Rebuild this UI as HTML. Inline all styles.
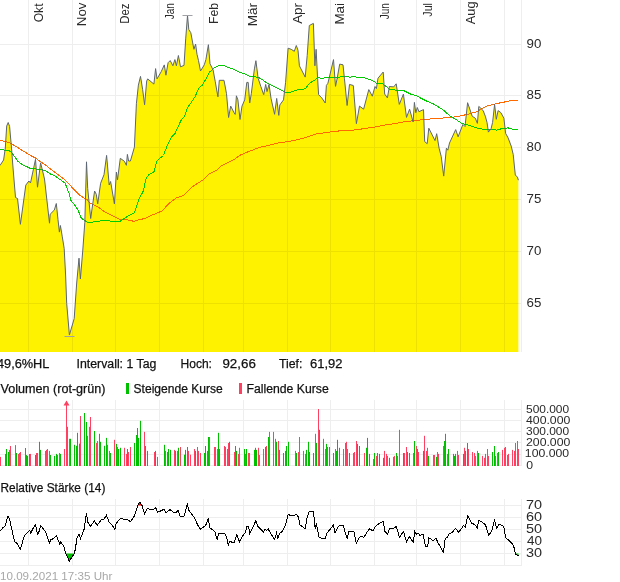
<!DOCTYPE html>
<html><head><meta charset="utf-8"><title>Chart</title><style>
html,body{margin:0;padding:0;background:#fff;}body{width:620px;height:582px;overflow:hidden;}
svg{display:block;font-family:"Liberation Sans",sans-serif;will-change:transform;}
</style></head><body>
<svg width="620" height="582" viewBox="0 0 620 582">
<polygon points="0,352 0,165.5 3.6,160 5.3,148 6.7,126 8.2,122.5 9.6,126.5 11.5,148 13.2,170 15.5,197.5 17.5,198.5 20.4,224.3 25.8,185.1 28.9,181 30.5,183 35.5,159.3 37.5,187.2 40.6,162.8 44.5,179 49.5,223.2 50.2,214.2 54.3,210.1 56.3,203.5 58,219.7 59.4,232.1 60.4,225.5 62.2,236.2 64.2,248.6 65.6,275 66.7,303.5 69.4,335 74.2,318.6 76.7,283 79,258.2 80.4,279 82.8,250 84.8,222.5 86.5,161.8 87.7,188.4 90.7,218.5 92,209 94.6,191 96.3,194.4 97.7,203.9 100.6,183.3 104,174.7 106.6,155.4 109.2,185 110.6,181.5 114.4,203.9 116.4,172.1 117.5,179.8 120.3,158.3 124.4,161.3 126.4,165.3 127.4,154.4 128.6,161 130.4,161 134.4,147.2 136.4,103.7 138.4,85.1 140.5,76.4 142.6,89.3 144.6,104.8 146.7,81 147.7,78.9 153.9,84.1 155.6,68.6 157,78.9 161.2,71.7 164.3,64.9 165.9,75.2 168.1,62.7 170.2,60.6 172.9,65.8 174.9,59.6 176.4,65.8 178.4,55.5 180.5,66.8 184,65.4 185.7,38.9 187.5,15.5 188.8,29.6 190.8,32.7 193.9,49.3 195.6,44.1 197,54.4 198.5,60.6 200.5,71 204.3,64.8 205.9,59.6 208.4,44.7 210,63.7 213.1,70 215.2,81.3 217.9,96.8 219.3,80.3 224,80.3 226.5,93.7 228.6,117.5 230.7,106.1 233.8,112.3 235.2,114.4 236.4,95.8 237.9,99.9 240,119.5 242,106.1 244.7,99.9 246.8,82.4 248.2,82.4 249.7,103 251.3,93.7 254.4,68.9 255.9,60.7 258.1,78.2 260.8,86.4 263.7,94.7 265.7,84.4 267,91.6 269,84.4 271.1,98.8 274.6,114.3 276.7,98.4 278.8,115.4 279.8,105 283.5,99.9 285.6,82.3 288.1,48.2 291.2,49.3 294.3,51.3 296.3,45.5 298,50.3 299.4,65.8 301.5,69.9 305.2,77.1 307.2,55.5 309.3,25.5 313.4,23.4 314.9,65.8 316.1,49.3 317.6,78.2 318.6,94.7 321.7,97.8 325.2,103 326.4,85.4 327.9,83.3 333.5,59.6 335.5,86.4 337.2,78.2 339.7,64.1 343,64.8 344.4,78.2 347.1,105.5 349.5,84.4 353.3,85.5 356.4,123.7 359.5,106.1 363.6,109.2 368.8,89.6 372.3,96.2 375,86.5 376.4,88.6 378,78.2 383.2,72 384.7,94.1 387.4,97.9 389.4,86.5 393.7,86.9 396.2,83.8 399.3,104.4 403.4,94.1 406.5,117.4 409.6,109.2 413.1,122 414.4,102.4 415.8,112.7 417.3,107.5 418.9,111.7 423.5,109.6 424.7,141.6 427.2,143.7 428.8,128.2 435,140.6 436.7,133.7 439.1,148.2 441.2,156.4 443.7,176.1 446.4,148.2 447.8,150.2 449.5,143 455.7,129.6 458.1,136.8 462.9,124.4 465,126.5 467.6,102.7 470.1,110 472.2,116.2 475.3,118.2 477.4,123.4 478.8,106.4 481.5,108.9 483.3,111 485.3,116.2 487,122.4 488.4,132.1 491.1,128.6 492.6,122.4 494.6,104.4 496.3,119.3 498.1,110.6 500.8,112.6 503.9,118.2 505.6,133.3 508.1,137.9 511.2,146.1 513.2,154.4 515.3,175 517.4,177.1 518.4,180.2 518.4,352" fill="#fff200"/>
<path d="M28.5 0V352M72.5 0V352M115.5 0V352M159.5 0V352M203.5 0V352M243.5 0V352M287.5 0V352M330.5 0V352M374.5 0V352M416.5 0V352M460.5 0V352M504.5 0V352M521.5 0V352M0 44.5H522M0 95.5H522M0 147.5H522M0 199.5H522M0 251.5H522M0 303.5H522" stroke="#eeeeee" stroke-width="1" fill="none" style="mix-blend-mode:multiply"/>
<polyline points="0,140.2 10,142.8 20,149 30,155.2 36,158.3 40,161.4 45,164.5 50,168.6 64,179 80,195.6 86.9,199.6 90.3,203 97.2,206.5 105.8,212.5 114.4,216.8 119.5,219.3 129.8,220.2 133.5,221.3 139.4,219.7 145.2,218.4 151,215.5 156.8,213.2 162.6,210.6 168.4,203.9 176.1,198.1 183.9,195.2 191.6,187.4 197.4,183.5 203.2,179.7 209,173.9 216.8,170 220.6,166.1 228.4,162.3 234.2,159.4 240,155.2 247.1,152.2 254.2,149.4 259.5,147.3 268.4,145.5 279,142.8 287.9,141.6 296.8,139.8 307.4,137 316.3,134 328.7,132.2 339.4,130.9 350,130.4 355.3,129.9 365.7,128.4 376,126.8 386.3,124.7 395,123.7 400.3,122.4 410.7,121 421,119.9 431.3,118.9 440,118.3 445.3,117.8 455.7,116.8 466,114.7 476.3,112 481.2,108.9 487.4,105.8 495.7,103.8 506,101.7 512.2,100.2 518.4,101.1" fill="none" stroke="#ff6a00" stroke-width="1" shape-rendering="crispEdges"/>
<polyline points="0,149.6 9,150.5 12,153 18,161.4 22,164.5 30,168.2 40,169.6 45,170.3 50,173.8 55,176 65,183 69.7,195 70.4,199.8 74.5,204.6 78,210.1 81.4,218.4 84.8,220.4 87.6,222.5 93.7,221.9 105.8,220.2 114.4,222 120,221.3 125.8,217.4 129.8,215 134.5,212.6 139.4,198.1 143.2,191.3 146.1,178.7 149,174.4 153.9,171.9 156.8,161.3 159.7,158.4 163.5,155.5 166.4,147.7 169.9,140 171.5,136.8 175,133.7 176.4,130.2 181.5,119.5 184.6,116.4 187.7,107.1 190.8,103 195,96.8 199.1,87.5 202.2,85.4 206.3,78.2 209.4,72 212.5,69.9 214.1,67.9 218.3,65.8 223.4,65.2 226.5,66.9 232.7,68.9 238.9,72 244.1,73.5 249.3,76.2 255.5,76.8 260.2,78.2 267.4,83.3 275.7,87.5 283.9,91.6 287,93.1 292.2,91.6 298.4,89.5 305.2,88.9 309.3,83.3 314.5,80.2 317.6,77.8 322.7,78.2 328.9,77.1 335.1,77.1 337.6,78.2 341.3,76.5 350,77.1 353.3,76.8 363.6,77.6 371.9,80.3 377,83.4 382.2,83.4 386.3,86.5 389.4,89.6 395,90 398.3,90.6 404.5,91 410.7,94.1 415.8,95.5 421,98.2 427.2,101.3 434.4,104.4 440,107.9 443.3,110 449.5,115.5 455.7,119.3 461.9,123.4 468.1,125 476.3,127.9 483.3,129.2 491.5,129.2 496.7,130.2 501.9,128.6 508.1,127.9 513.2,129.2 518.4,129.6" fill="none" stroke="#00cc00" stroke-width="1" shape-rendering="crispEdges"/>
<polyline points="0,165.5 3.6,160 5.3,148 6.7,126 8.2,122.5 9.6,126.5 11.5,148 13.2,170 15.5,197.5 17.5,198.5 20.4,224.3 25.8,185.1 28.9,181 30.5,183 35.5,159.3 37.5,187.2 40.6,162.8 44.5,179 49.5,223.2 50.2,214.2 54.3,210.1 56.3,203.5 58,219.7 59.4,232.1 60.4,225.5 62.2,236.2 64.2,248.6 65.6,275 66.7,303.5 69.4,335 74.2,318.6 76.7,283 79,258.2 80.4,279 82.8,250 84.8,222.5 86.5,161.8 87.7,188.4 90.7,218.5 92,209 94.6,191 96.3,194.4 97.7,203.9 100.6,183.3 104,174.7 106.6,155.4 109.2,185 110.6,181.5 114.4,203.9 116.4,172.1 117.5,179.8 120.3,158.3 124.4,161.3 126.4,165.3 127.4,154.4 128.6,161 130.4,161 134.4,147.2 136.4,103.7 138.4,85.1 140.5,76.4 142.6,89.3 144.6,104.8 146.7,81 147.7,78.9 153.9,84.1 155.6,68.6 157,78.9 161.2,71.7 164.3,64.9 165.9,75.2 168.1,62.7 170.2,60.6 172.9,65.8 174.9,59.6 176.4,65.8 178.4,55.5 180.5,66.8 184,65.4 185.7,38.9 187.5,15.5 188.8,29.6 190.8,32.7 193.9,49.3 195.6,44.1 197,54.4 198.5,60.6 200.5,71 204.3,64.8 205.9,59.6 208.4,44.7 210,63.7 213.1,70 215.2,81.3 217.9,96.8 219.3,80.3 224,80.3 226.5,93.7 228.6,117.5 230.7,106.1 233.8,112.3 235.2,114.4 236.4,95.8 237.9,99.9 240,119.5 242,106.1 244.7,99.9 246.8,82.4 248.2,82.4 249.7,103 251.3,93.7 254.4,68.9 255.9,60.7 258.1,78.2 260.8,86.4 263.7,94.7 265.7,84.4 267,91.6 269,84.4 271.1,98.8 274.6,114.3 276.7,98.4 278.8,115.4 279.8,105 283.5,99.9 285.6,82.3 288.1,48.2 291.2,49.3 294.3,51.3 296.3,45.5 298,50.3 299.4,65.8 301.5,69.9 305.2,77.1 307.2,55.5 309.3,25.5 313.4,23.4 314.9,65.8 316.1,49.3 317.6,78.2 318.6,94.7 321.7,97.8 325.2,103 326.4,85.4 327.9,83.3 333.5,59.6 335.5,86.4 337.2,78.2 339.7,64.1 343,64.8 344.4,78.2 347.1,105.5 349.5,84.4 353.3,85.5 356.4,123.7 359.5,106.1 363.6,109.2 368.8,89.6 372.3,96.2 375,86.5 376.4,88.6 378,78.2 383.2,72 384.7,94.1 387.4,97.9 389.4,86.5 393.7,86.9 396.2,83.8 399.3,104.4 403.4,94.1 406.5,117.4 409.6,109.2 413.1,122 414.4,102.4 415.8,112.7 417.3,107.5 418.9,111.7 423.5,109.6 424.7,141.6 427.2,143.7 428.8,128.2 435,140.6 436.7,133.7 439.1,148.2 441.2,156.4 443.7,176.1 446.4,148.2 447.8,150.2 449.5,143 455.7,129.6 458.1,136.8 462.9,124.4 465,126.5 467.6,102.7 470.1,110 472.2,116.2 475.3,118.2 477.4,123.4 478.8,106.4 481.5,108.9 483.3,111 485.3,116.2 487,122.4 488.4,132.1 491.1,128.6 492.6,122.4 494.6,104.4 496.3,119.3 498.1,110.6 500.8,112.6 503.9,118.2 505.6,133.3 508.1,137.9 511.2,146.1 513.2,154.4 515.3,175 517.4,177.1 518.4,180.2" fill="none" stroke="#5c6573" stroke-width="1" stroke-linejoin="round"/>
<path d="M182.5 15.5H192.5M64.5 336.5H74.5" stroke="#a0a2a8" stroke-width="1.2"/>
<rect x="126" y="383" width="3" height="11" fill="#00c000"/>
<rect x="239" y="383" width="3" height="11" fill="#ff4060"/>
<path d="M28.5 400V466M72.5 400V466M115.5 400V466M159.5 400V466M203.5 400V466M243.5 400V466M287.5 400V466M330.5 400V466M374.5 400V466M416.5 400V466M460.5 400V466M504.5 400V466M521.5 400V466M0 409.5H522M0 420.5H522M0 431.5H522M0 442.5H522M0 454.5H522M0 465.5H522" stroke="#eeeeee" stroke-width="1" fill="none" style="mix-blend-mode:multiply"/>
<path d="M5.5 466V454M6.5 466V449M8.5 466V452M16.5 466V453M25.5 466V448M26.5 466V455.1M27.5 466V456M29.5 466V454M35.5 466V455M39.5 466V441.8M40.5 466V449.9M50.5 466V455M54.5 466V455.9M56.5 466V453.9M60.5 466V453.9M70.5 466V438.8M74.5 466V444.8M76.5 466V445.8M77.5 466V432.8M79.5 466V443.6M84.5 466V413M86.5 466V422M94.5 466V431M99.5 466V433.8M100.5 466V441.8M104.5 466V445.8M106.5 466V437.9M110.5 466V453M116.5 466V443.9M118.5 466V449M120.5 466V447.8M127.5 466V449M134.5 466V443M136.5 466V435M137.5 466V428M138.5 466V437.9M140.5 466V420.8M145.5 466V446M147.5 466V450.9M155.5 466V450.9M164.5 466V444.8M167.5 466V452M168.5 466V449M170.5 466V449.9M175.5 466V450.9M178.5 466V447.8M184.5 466V454.7M185.5 466V449.9M187.5 466V447M195.5 466V450.9M204.5 466V453M205.5 466V446M207.5 466V450.9M208.5 466V437M218.5 466V432.8M219.5 466V449M229.5 466V441.8M235.5 466V446M236.5 466V450.9M244.5 466V449M246.5 466V449M254.5 466V449.9M255.5 466V447.8M256.5 466V449.9M265.5 466V447M268.5 466V437M276.5 466V441.8M279.5 466V449.9M283.5 466V453M285.5 466V450.9M286.5 466V446M288.5 466V441.8M296.5 466V453M306.5 466V449.9M308.5 466V441.8M309.5 466V452M313.5 466V453M316.5 466V443M319.5 466V429.8M326.5 466V443.9M329.5 466V447M333.5 466V453M336.5 466V450.9M337.5 466V439.8M339.5 466V447.8M349.5 466V453M357.5 466V443.9M359.5 466V446M366.5 466V447.8M367.5 466V437.9M369.5 466V453.9M374.5 466V453M377.5 466V453M379.5 466V453.9M383.5 466V457.8M389.5 466V457.8M396.5 466V453M403.5 466V453M407.5 466V452M409.5 466V453M414.5 466V441M417.5 466V449M423.5 466V450.9M428.5 466V455.9M436.5 466V456.9M444.5 466V441M445.5 466V433.8M448.5 466V449M453.5 466V453.9M454.5 466V455.9M455.5 466V453.9M463.5 466V453.9M465.5 466V450.9M467.5 466V443M478.5 466V453M492.5 466V452M494.5 466V446M498.5 466V452" stroke="#00c000" stroke-width="1" fill="none"/>
<path d="M0.5 466V456.9M9.5 466V449.9M10.5 466V446M15.5 466V445.1M18.5 466V454M19.5 466V453M20.5 466V452M30.5 466V453.9M36.5 466V453M37.5 466V453M45.5 466V451M46.5 466V449.9M47.5 466V449M49.5 466V450.9M57.5 466V455M59.5 466V453M64.5 466V449M66.5 466V401M67.5 466V426.8M69.5 466V438.8M80.5 466V416M87.5 466V435.8M89.5 466V426.8M90.5 466V417M96.5 466V443M97.5 466V441M107.5 466V444.8M109.5 466V450.9M114.5 466V439.8M117.5 466V447M124.5 466V447.8M126.5 466V453.9M128.5 466V452M130.5 466V447M144.5 466V431.9M154.5 466V452M157.5 466V456.9M165.5 466V450.9M174.5 466V449.9M177.5 466V450.9M180.5 466V447M188.5 466V450.9M190.5 466V454.7M194.5 466V449M197.5 466V447M198.5 466V450.9M200.5 466V453M209.5 466V437M214.5 466V447M215.5 466V447M217.5 466V449M224.5 466V446M225.5 466V447M227.5 466V449M228.5 466V443M234.5 466V452M238.5 466V453.9M239.5 466V447.8M245.5 466V453.9M248.5 466V453M249.5 466V453M258.5 466V447.8M259.5 466V455M263.5 466V449M266.5 466V446M269.5 466V431.9M273.5 466V431.9M275.5 466V438.8M278.5 466V441M295.5 466V450.9M298.5 466V452M299.5 466V437M303.5 466V450.9M305.5 466V453.9M315.5 466V433.8M318.5 466V409M323.5 466V438.8M325.5 466V449M327.5 466V447M335.5 466V449M343.5 466V449M345.5 466V443M346.5 466V441.8M347.5 466V449M353.5 466V453M354.5 466V452M356.5 466V441M364.5 466V453M373.5 466V459M376.5 466V455.9M384.5 466V450.9M386.5 466V453.9M387.5 466V455.9M393.5 466V456.9M394.5 466V455.9M397.5 466V455.9M399.5 466V429.8M404.5 466V453M406.5 466V447M413.5 466V453M416.5 466V446M418.5 466V452M424.5 466V435.8M426.5 466V450.9M427.5 466V447.8M433.5 466V455M434.5 466V455M437.5 466V452M438.5 466V453.9M443.5 466V446M447.5 466V453.9M457.5 466V450.9M458.5 466V455M464.5 466V447.8M468.5 466V449M472.5 466V452M474.5 466V453M475.5 466V455.9M477.5 466V450.9M482.5 466V455.9M484.5 466V457.8M485.5 466V453.9M487.5 466V449M488.5 466V455.9M495.5 466V455.9M497.5 466V453M502.5 466V449.9M504.5 466V447.8M505.5 466V447M507.5 466V455M508.5 466V453.9M512.5 466V449.9M514.5 466V450.9M515.5 466V443M517.5 466V441M518.5 466V449" stroke="#ff4060" stroke-width="1" fill="none"/>
<path d="M66.5 400.5L63.5 405.5H69.5Z" fill="#ff4060"/>
<path d="M28.5 499V566M72.5 499V566M115.5 499V566M159.5 499V566M203.5 499V566M243.5 499V566M287.5 499V566M330.5 499V566M374.5 499V566M416.5 499V566M460.5 499V566M504.5 499V566M521.5 499V566M0 505.5H522M0 517.5H522M0 529.5H522M0 541.5H522M0 553.5H522M0 565.5H522" stroke="#eeeeee" stroke-width="1" fill="none" style="mix-blend-mode:multiply"/>
<polygon points="65.8,553.5 69.3,561.2 74.4,553.5" fill="#00c000"/>
<polygon points="515.271,553.5 515.5,554.6 518.5,555.6 518.5,553.5" fill="#00c000"/>
<polygon points="137.81,505.5 138.4,503.7 140.2,502.3 141.9,505.2 141.993,505.5" fill="#ff0000"/>
<polygon points="186.875,505.5 187.4,503.4 187.771,505.5" fill="#ff0000"/>
<polyline points="0,531.3 2.9,527.7 5.5,525.5 6.5,520.4 8,516.5 9.4,518.2 10.9,525.5 14.5,541.5 17.4,543.6 20.3,549.4 24,537.1 26.1,533.5 29.8,530.6 30.8,533 33.1,528.4 35.6,524.8 37.5,534.2 38.9,532 40.6,525.5 43.5,529.1 45.7,532 49.4,542.9 50.8,539.7 53.7,538.5 56.3,535.6 58.8,541.5 59.8,544.4 60.7,541.7 63.9,546.5 65.8,553.5 69.3,561.2 74.4,553.5 75.4,548.7 76.9,538.5 79.1,533.9 80.6,538.5 84.2,529.1 86.5,513.1 87.6,521.9 90.5,526.2 94.4,521.1 97.3,525.2 101,520 103.9,519 106.5,515.3 109,521.9 111.9,524.8 114.8,529.5 116.2,523.3 120.6,518.2 123.9,519.4 127.1,519 130.3,521.9 134.4,516 136.5,509.5 138.4,503.7 140.2,502.3 141.9,505.2 144.5,513.6 147.4,508.4 149.6,509.2 153.2,509.5 155.8,507.8 157.6,512.1 160.5,511 164.1,509.2 166,513.1 169.9,509.5 172.1,511 173.6,512.4 175.8,512.7 178,510.2 180.2,516.8 183.8,516.8 185.7,510.2 187.4,503.4 188.6,510.2 190.3,512.1 194.7,518.2 197.6,524.8 200.5,529.1 205.6,525.5 208.5,518.2 209.5,527.7 212.8,529.8 215,532 217.2,540 218.6,533 224.4,533 226.6,537.1 228.4,546.1 229.5,541.2 233.9,542.9 236.8,534.5 239.4,541.7 242.3,536.4 245.5,532 246.9,526.2 248.4,526.2 249.8,533.5 252.7,528.1 255.9,520.4 257.9,526.2 260.8,529.1 263.4,532 265.2,529.1 266.3,530.6 268.1,528.7 271,534.2 274.6,539.3 276.5,533 277.9,538.3 279.4,533.5 282.6,531.3 285.5,524.8 288.1,514.6 290.6,515.3 294.2,515.6 296.4,514.2 298.3,516.8 300,524.8 302.2,526.6 305.1,528.7 307,518.2 309.4,511.3 313.1,511.3 314.2,518.2 315.2,529.1 316.3,523.3 318.9,537.1 321.8,538.3 325.4,538.3 326.9,533 330.5,529.1 333.4,524.8 335.1,533 337.5,527.7 339.5,525.2 343.2,525.5 345.1,532 347.3,539.3 348.7,531.3 353.8,531.3 356.3,543.2 359.6,537.1 361,536.4 364,537.4 366.9,532 369.8,528.7 373.1,531 374.8,527.2 377.5,524.8 380.4,522.6 383.3,521.4 384.7,531.3 387.6,534.2 389.6,528.7 393,528.4 396.3,526.6 399.5,537.4 403.6,531.3 406.5,542.2 409.4,536.8 413.3,542.2 414.8,531.6 416.6,534.2 418.4,533.5 419.8,535.4 423,534.5 425.4,546.1 427.8,546.1 428.8,537.8 433.1,540.5 436,538.2 437.9,542.6 441.1,548.2 443.5,552.3 445.2,538.5 446.8,537.7 449.2,534 452.1,532.4 455.6,528.5 458.5,532.1 461.3,528.9 463.7,525.3 465.3,527.3 467.7,516 471.8,523.2 475,524.8 477.4,528.1 478.5,520.5 481.5,521.6 485.5,524.8 488.7,535.3 491.9,530.8 494.4,520.5 496.8,528.1 498.9,524.4 502.4,525.3 504,528.1 505.6,537.7 508.9,540.2 512.1,543.4 514,547.4 515.5,554.6 518.5,555.6" fill="none" stroke="#000" stroke-width="1" shape-rendering="crispEdges"/>
<text id="t90" class="tx" x="526.49" y="48.10" textLength="14.79" lengthAdjust="spacingAndGlyphs" font-size="12.5" fill="#2a2a2a">90</text>
<text id="t85" class="tx" x="526.50" y="99.20" textLength="14.79" lengthAdjust="spacingAndGlyphs" font-size="12.5" fill="#2a2a2a">85</text>
<text id="t80" class="tx" x="526.49" y="151.20" textLength="14.79" lengthAdjust="spacingAndGlyphs" font-size="12.5" fill="#2a2a2a">80</text>
<text id="t75" class="tx" x="526.50" y="203.20" textLength="14.79" lengthAdjust="spacingAndGlyphs" font-size="12.5" fill="#2a2a2a">75</text>
<text id="t70" class="tx" x="526.49" y="255.20" textLength="14.79" lengthAdjust="spacingAndGlyphs" font-size="12.5" fill="#2a2a2a">70</text>
<text id="t65" class="tx" x="526.50" y="307.20" textLength="14.79" lengthAdjust="spacingAndGlyphs" font-size="12.5" fill="#2a2a2a">65</text>
<text id="i1" class="tx" x="-3.05" y="367.90" textLength="52.48" lengthAdjust="spacingAndGlyphs" font-size="12.5" fill="#111111" stroke="#111111" stroke-width="0.25" stroke-linejoin="round">49,6%HL</text>
<text id="i2" class="tx" x="76.51" y="367.90" textLength="79.87" lengthAdjust="spacingAndGlyphs" font-size="12.5" fill="#111111" stroke="#111111" stroke-width="0.25" stroke-linejoin="round">Intervall: 1 Tag</text>
<text id="i3" class="tx" x="180.49" y="367.90" textLength="31.48" lengthAdjust="spacingAndGlyphs" font-size="12.5" fill="#111111" stroke="#111111" stroke-width="0.25" stroke-linejoin="round">Hoch:</text>
<text id="i4" class="tx" x="222.47" y="367.90" textLength="33.32" lengthAdjust="spacingAndGlyphs" font-size="12.5" fill="#111111" stroke="#111111" stroke-width="0.25" stroke-linejoin="round">92,66</text>
<text id="i5" class="tx" x="279.00" y="367.90" textLength="23.46" lengthAdjust="spacingAndGlyphs" font-size="12.5" fill="#111111" stroke="#111111" stroke-width="0.25" stroke-linejoin="round">Tief:</text>
<text id="i6" class="tx" x="309.97" y="367.90" textLength="32.51" lengthAdjust="spacingAndGlyphs" font-size="12.5" fill="#111111" stroke="#111111" stroke-width="0.25" stroke-linejoin="round">61,92</text>
<text id="l1" class="tx" x="0.50" y="392.80" textLength="105.02" lengthAdjust="spacingAndGlyphs" font-size="12.5" fill="#111111" stroke="#111111" stroke-width="0.25" stroke-linejoin="round">Volumen (rot-grün)</text>
<text id="l2" class="tx" x="133.52" y="392.80" textLength="89.23" lengthAdjust="spacingAndGlyphs" font-size="12.5" fill="#111111" stroke="#111111" stroke-width="0.25" stroke-linejoin="round">Steigende Kurse</text>
<text id="l3" class="tx" x="246.51" y="392.80" textLength="82.26" lengthAdjust="spacingAndGlyphs" font-size="12.5" fill="#111111" stroke="#111111" stroke-width="0.25" stroke-linejoin="round">Fallende Kurse</text>
<text id="v5" class="tx" x="526.00" y="412.90" textLength="43.14" lengthAdjust="spacingAndGlyphs" font-size="10.6" fill="#2a2a2a">500.000</text>
<text id="v4" class="tx" x="526.00" y="423.90" textLength="44.34" lengthAdjust="spacingAndGlyphs" font-size="10.6" fill="#2a2a2a">400.000</text>
<text id="v3" class="tx" x="526.00" y="434.90" textLength="43.14" lengthAdjust="spacingAndGlyphs" font-size="10.6" fill="#2a2a2a">300.000</text>
<text id="v2" class="tx" x="526.00" y="445.90" textLength="44.34" lengthAdjust="spacingAndGlyphs" font-size="10.6" fill="#2a2a2a">200.000</text>
<text id="v1" class="tx" x="524.84" y="456.90" textLength="44.31" lengthAdjust="spacingAndGlyphs" font-size="10.6" fill="#2a2a2a">100.000</text>
<text id="v0" class="tx" x="526.32" y="468.60" textLength="6.82" lengthAdjust="spacingAndGlyphs" font-size="10.6" fill="#2a2a2a">0</text>
<text id="rt" class="tx" x="0.55" y="491.60" textLength="104.80" lengthAdjust="spacingAndGlyphs" font-size="12.5" fill="#111111" stroke="#111111" stroke-width="0.25" stroke-linejoin="round">Relative Stärke (14)</text>
<text id="r7" class="tx" x="525.94" y="508.60" textLength="16.08" lengthAdjust="spacingAndGlyphs" font-size="12.5" fill="#2a2a2a">70</text>
<text id="r6" class="tx" x="525.94" y="520.60" textLength="16.08" lengthAdjust="spacingAndGlyphs" font-size="12.5" fill="#2a2a2a">60</text>
<text id="r5" class="tx" x="525.94" y="532.60" textLength="16.08" lengthAdjust="spacingAndGlyphs" font-size="12.5" fill="#2a2a2a">50</text>
<text id="r4" class="tx" x="526.98" y="544.60" textLength="15.01" lengthAdjust="spacingAndGlyphs" font-size="12.5" fill="#2a2a2a">40</text>
<text id="r3" class="tx" x="525.94" y="556.60" textLength="16.08" lengthAdjust="spacingAndGlyphs" font-size="12.5" fill="#2a2a2a">30</text>
<text id="ft" class="tx" x="0.02" y="579.90" textLength="112.33" lengthAdjust="spacingAndGlyphs" font-size="11.8" fill="#a8a8a8">10.09.2021 17:35 Uhr</text>
<text id="mOkt" class="tx" transform="translate(43.3 3.47) rotate(-90)" text-anchor="end" textLength="18.87" lengthAdjust="spacingAndGlyphs" font-size="12.5" fill="#2a2a2a">Okt</text>
<text id="mNov" class="tx" transform="translate(85.9 2.49) rotate(-90)" text-anchor="end" textLength="23.72" lengthAdjust="spacingAndGlyphs" font-size="12.5" fill="#2a2a2a">Nov</text>
<text id="mDez" class="tx" transform="translate(129.4 3.55) rotate(-90)" text-anchor="end" textLength="20.30" lengthAdjust="spacingAndGlyphs" font-size="12.5" fill="#2a2a2a">Dez</text>
<text id="mJan" class="tx" transform="translate(174.2 3.08) rotate(-90)" text-anchor="end" textLength="16.14" lengthAdjust="spacingAndGlyphs" font-size="12.5" fill="#2a2a2a">Jan</text>
<text id="mFeb" class="tx" transform="translate(218.0 2.98) rotate(-90)" text-anchor="end" textLength="20.97" lengthAdjust="spacingAndGlyphs" font-size="12.5" fill="#2a2a2a">Feb</text>
<text id="mMar" class="tx" transform="translate(257.4 2.97) rotate(-90)" text-anchor="end" textLength="23.29" lengthAdjust="spacingAndGlyphs" font-size="12.5" fill="#2a2a2a">Mär</text>
<text id="mApr" class="tx" transform="translate(301.6 2.96) rotate(-90)" text-anchor="end" textLength="20.92" lengthAdjust="spacingAndGlyphs" font-size="12.5" fill="#2a2a2a">Apr</text>
<text id="mMai" class="tx" transform="translate(344.3 2.94) rotate(-90)" text-anchor="end" textLength="21.68" lengthAdjust="spacingAndGlyphs" font-size="12.5" fill="#2a2a2a">Mai</text>
<text id="mJun" class="tx" transform="translate(389.0 3.08) rotate(-90)" text-anchor="end" textLength="16.14" lengthAdjust="spacingAndGlyphs" font-size="12.5" fill="#2a2a2a">Jun</text>
<text id="mJul" class="tx" transform="translate(431.5 3.04) rotate(-90)" text-anchor="end" textLength="13.67" lengthAdjust="spacingAndGlyphs" font-size="12.5" fill="#2a2a2a">Jul</text>
<text id="mAug" class="tx" transform="translate(475.0 1.50) rotate(-90)" text-anchor="end" textLength="22.69" lengthAdjust="spacingAndGlyphs" font-size="12.5" fill="#2a2a2a">Aug</text>
</svg></body></html>
